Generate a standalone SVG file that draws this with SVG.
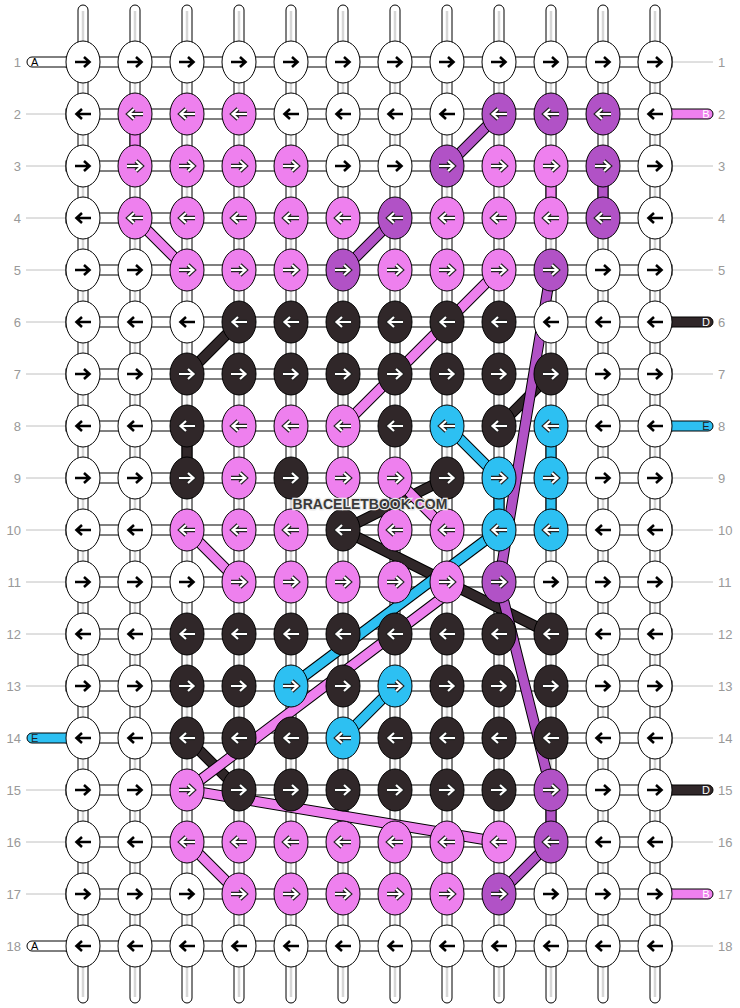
<svg xmlns="http://www.w3.org/2000/svg" width="740" height="1008" viewBox="0 0 740 1008">
<style>
.k{stroke:#000;stroke-width:1}
.w{fill:#fff}.p{fill:#ee80ee}.u{fill:#b152c6}.d{fill:#302729}.b{fill:#2dc0f2}
.vs{fill:#fff;stroke:#000;stroke-width:1}
.vc{stroke:#d6d6d6;stroke-width:2.5}
.hs{fill:#fff;stroke:#000;stroke-width:1}
.gl{stroke:#c0c0c0;stroke-width:1}
.lb{font-family:"Liberation Sans",Arial,sans-serif;font-size:13px;fill:#999}
.tl{font-family:"Liberation Sans",Arial,sans-serif;font-size:11px}
.o{fill:none;stroke:#000;stroke-width:11;stroke-linejoin:round}
.sd{fill:none;stroke:#302729;stroke-width:9;stroke-linejoin:round}
.sb{fill:none;stroke:#2dc0f2;stroke-width:9;stroke-linejoin:round}
.sp{fill:none;stroke:#ee80ee;stroke-width:9;stroke-linejoin:round}
.su{fill:none;stroke:#b152c6;stroke-width:9;stroke-linejoin:round}
.wm{font-family:"Liberation Sans",Arial,sans-serif;font-size:14px;font-weight:bold;fill:#3a3a3a;stroke:#e8e8e8;stroke-width:2.5;paint-order:stroke}
</style>
<defs>
<path id="R" d="M-8 0H6M1-5L6.5 0L1 5"/>
<path id="L" d="M8 0H-6M-1-5L-6.5 0L-1 5"/>
<g id="Rb" fill="none" stroke="#000" stroke-width="2.6"><use href="#R"/></g>
<g id="Lb" fill="none" stroke="#000" stroke-width="2.6"><use href="#L"/></g>
<g id="Rc" fill="none"><use href="#R" stroke="#222" stroke-width="4.4"/><use href="#R" stroke="#fff" stroke-width="2.2"/></g>
<g id="Lc" fill="none"><use href="#L" stroke="#222" stroke-width="4.4"/><use href="#L" stroke="#fff" stroke-width="2.2"/></g>
</defs>
<rect width="740" height="1008" fill="#fff"/>
<g id="labels">
<text class="lb" x="21" y="67" text-anchor="end">1</text><text class="lb" x="718" y="67">1</text>
<text class="lb" x="21" y="119" text-anchor="end">2</text><text class="lb" x="718" y="119">2</text>
<text class="lb" x="21" y="171" text-anchor="end">3</text><text class="lb" x="718" y="171">3</text>
<text class="lb" x="21" y="223" text-anchor="end">4</text><text class="lb" x="718" y="223">4</text>
<text class="lb" x="21" y="275" text-anchor="end">5</text><text class="lb" x="718" y="275">5</text>
<text class="lb" x="21" y="327" text-anchor="end">6</text><text class="lb" x="718" y="327">6</text>
<text class="lb" x="21" y="379" text-anchor="end">7</text><text class="lb" x="718" y="379">7</text>
<text class="lb" x="21" y="431" text-anchor="end">8</text><text class="lb" x="718" y="431">8</text>
<text class="lb" x="21" y="483" text-anchor="end">9</text><text class="lb" x="718" y="483">9</text>
<text class="lb" x="21" y="535" text-anchor="end">10</text><text class="lb" x="718" y="535">10</text>
<text class="lb" x="21" y="587" text-anchor="end">11</text><text class="lb" x="718" y="587">11</text>
<text class="lb" x="21" y="639" text-anchor="end">12</text><text class="lb" x="718" y="639">12</text>
<text class="lb" x="21" y="691" text-anchor="end">13</text><text class="lb" x="718" y="691">13</text>
<text class="lb" x="21" y="743" text-anchor="end">14</text><text class="lb" x="718" y="743">14</text>
<text class="lb" x="21" y="795" text-anchor="end">15</text><text class="lb" x="718" y="795">15</text>
<text class="lb" x="21" y="847" text-anchor="end">16</text><text class="lb" x="718" y="847">16</text>
<text class="lb" x="21" y="899" text-anchor="end">17</text><text class="lb" x="718" y="899">17</text>
<text class="lb" x="21" y="951" text-anchor="end">18</text><text class="lb" x="718" y="951">18</text>
</g>
<g id="connectors">
<g id="guides">
<path class="gl" d="M26 114H66M26 166H66M26 218H66M26 270H66M26 322H66M26 374H66M26 426H66M26 478H66M26 530H66M26 582H66M26 634H66M26 686H66M26 790H66M26 842H66M26 894H66"/>
<path class="gl" d="M672 62H713M672 166H713M672 218H713M672 270H713M672 374H713M672 478H713M672 530H713M672 582H713M672 634H713M672 686H713M672 738H713M672 842H713M672 946H713"/>
</g>
<g id="vertical-strands">
<rect class="vs" x="78" y="5" width="10" height="998" rx="5"/>
<rect class="vs" x="130" y="5" width="10" height="998" rx="5"/>
<rect class="vs" x="182" y="5" width="10" height="998" rx="5"/>
<rect class="vs" x="234" y="5" width="10" height="998" rx="5"/>
<rect class="vs" x="286" y="5" width="10" height="998" rx="5"/>
<rect class="vs" x="338" y="5" width="10" height="998" rx="5"/>
<rect class="vs" x="390" y="5" width="10" height="998" rx="5"/>
<rect class="vs" x="442" y="5" width="10" height="998" rx="5"/>
<rect class="vs" x="494" y="5" width="10" height="998" rx="5"/>
<rect class="vs" x="546" y="5" width="10" height="998" rx="5"/>
<rect class="vs" x="598" y="5" width="10" height="998" rx="5"/>
<rect class="vs" x="650" y="5" width="10" height="998" rx="5"/>
<path class="vc" d="M83 11V997M135 11V997M187 11V997M239 11V997M291 11V997M343 11V997M395 11V997M447 11V997M499 11V997M551 11V997M603 11V997M655 11V997"/>
</g>
<g id="horizontal-strands">
<rect class="hs" x="66" y="57" width="606" height="10"/>
<rect class="hs" x="66" y="109" width="606" height="10"/>
<rect class="hs" x="66" y="161" width="606" height="10"/>
<rect class="hs" x="66" y="213" width="606" height="10"/>
<rect class="hs" x="66" y="265" width="606" height="10"/>
<rect class="hs" x="66" y="317" width="606" height="10"/>
<rect class="hs" x="66" y="369" width="606" height="10"/>
<rect class="hs" x="66" y="421" width="606" height="10"/>
<rect class="hs" x="66" y="473" width="606" height="10"/>
<rect class="hs" x="66" y="525" width="606" height="10"/>
<rect class="hs" x="66" y="577" width="606" height="10"/>
<rect class="hs" x="66" y="629" width="606" height="10"/>
<rect class="hs" x="66" y="681" width="606" height="10"/>
<rect class="hs" x="66" y="733" width="606" height="10"/>
<rect class="hs" x="66" y="785" width="606" height="10"/>
<rect class="hs" x="66" y="837" width="606" height="10"/>
<rect class="hs" x="66" y="889" width="606" height="10"/>
<rect class="hs" x="66" y="941" width="606" height="10"/>
</g>
<g id="tails">
<rect class="k w" x="27" y="57" width="50" height="10" rx="5"/><text class="tl" x="31" y="66" fill="#000">A</text>
<rect class="k w" x="27" y="941" width="50" height="10" rx="5"/><text class="tl" x="31" y="950" fill="#000">A</text>
<rect class="k b" x="27" y="733" width="50" height="10" rx="5"/><text class="tl" x="31" y="742" fill="#222">E</text>
<rect class="k p" x="662" y="109" width="51" height="10" rx="5"/><text class="tl" x="706" y="118" fill="#fff" text-anchor="middle">B</text>
<rect class="k d" x="662" y="317" width="51" height="10" rx="5"/><text class="tl" x="706" y="326" fill="#fff" text-anchor="middle">D</text>
<rect class="k b" x="662" y="421" width="51" height="10" rx="5"/><text class="tl" x="706" y="430" fill="#222" text-anchor="middle">E</text>
<rect class="k d" x="662" y="785" width="51" height="10" rx="5"/><text class="tl" x="706" y="794" fill="#fff" text-anchor="middle">D</text>
<rect class="k p" x="662" y="889" width="51" height="10" rx="5"/><text class="tl" x="706" y="898" fill="#fff" text-anchor="middle">B</text>
</g>
<g id="colored-segments">
<rect class="k p" x="130" y="132" width="10" height="16"/>
<rect class="k p" x="546" y="184" width="10" height="16"/>
<rect class="k u" x="598" y="184" width="10" height="16"/>
<rect class="k d" x="182" y="444" width="10" height="16"/>
<rect class="k b" x="546" y="444" width="10" height="16"/>
<rect class="k b" x="546" y="496" width="10" height="16"/>
<rect class="k b" x="494" y="496" width="10" height="16"/>
<rect class="k u" x="546" y="808" width="10" height="16"/>
</g>
<g id="diagonals">
<path class="o" d="M187 374L239 322"/><path class="sd" d="M187 374L239 322"/>
<path class="o" d="M499 426L551 374"/><path class="sd" d="M499 426L551 374"/>
<path class="o" d="M447 478L343 530L551 634"/><path class="sd" d="M447 478L343 530L551 634"/>
<path class="o" d="M187 738L239 790"/><path class="sd" d="M187 738L239 790"/>
<path class="o" d="M447 426L499 478"/><path class="sb" d="M447 426L499 478"/>
<path class="o" d="M499 530L291 686"/><path class="sb" d="M499 530L291 686"/>
<path class="o" d="M395 686L343 738"/><path class="sb" d="M395 686L343 738"/>
<path class="o" d="M135 218L187 270"/><path class="sp" d="M135 218L187 270"/>
<path class="o" d="M499 270L343 426"/><path class="sp" d="M499 270L343 426"/>
<path class="o" d="M395 478L447 530"/><path class="sp" d="M395 478L447 530"/>
<path class="o" d="M187 530L239 582"/><path class="sp" d="M187 530L239 582"/>
<path class="o" d="M455 588L187 790L499 842"/><path class="sp" d="M455 588L187 790L499 842"/>
<path class="o" d="M187 842L239 894"/><path class="sp" d="M187 842L239 894"/>
<path class="o" d="M499 114L447 166"/><path class="su" d="M499 114L447 166"/>
<path class="o" d="M395 218L343 270"/><path class="su" d="M395 218L343 270"/>
<path class="o" d="M551 270L499 582L551 790"/><path class="su" d="M551 270L499 582L551 790"/>
<path class="o" d="M551 842L499 894"/><path class="su" d="M551 842L499 894"/>
</g>
</g>
<g id="knots">
<g id="n1-1"><ellipse class="k w" cx="83" cy="62" rx="17" ry="21"/><use href="#Rb" x="83" y="62"/></g>
<g id="n1-2"><ellipse class="k w" cx="135" cy="62" rx="17" ry="21"/><use href="#Rb" x="135" y="62"/></g>
<g id="n1-3"><ellipse class="k w" cx="187" cy="62" rx="17" ry="21"/><use href="#Rb" x="187" y="62"/></g>
<g id="n1-4"><ellipse class="k w" cx="239" cy="62" rx="17" ry="21"/><use href="#Rb" x="239" y="62"/></g>
<g id="n1-5"><ellipse class="k w" cx="291" cy="62" rx="17" ry="21"/><use href="#Rb" x="291" y="62"/></g>
<g id="n1-6"><ellipse class="k w" cx="343" cy="62" rx="17" ry="21"/><use href="#Rb" x="343" y="62"/></g>
<g id="n1-7"><ellipse class="k w" cx="395" cy="62" rx="17" ry="21"/><use href="#Rb" x="395" y="62"/></g>
<g id="n1-8"><ellipse class="k w" cx="447" cy="62" rx="17" ry="21"/><use href="#Rb" x="447" y="62"/></g>
<g id="n1-9"><ellipse class="k w" cx="499" cy="62" rx="17" ry="21"/><use href="#Rb" x="499" y="62"/></g>
<g id="n1-10"><ellipse class="k w" cx="551" cy="62" rx="17" ry="21"/><use href="#Rb" x="551" y="62"/></g>
<g id="n1-11"><ellipse class="k w" cx="603" cy="62" rx="17" ry="21"/><use href="#Rb" x="603" y="62"/></g>
<g id="n1-12"><ellipse class="k w" cx="655" cy="62" rx="17" ry="21"/><use href="#Rb" x="655" y="62"/></g>

<g id="n2-1"><ellipse class="k w" cx="83" cy="114" rx="17" ry="21"/><use href="#Lb" x="83" y="114"/></g>
<g id="n2-2"><ellipse class="k p" cx="135" cy="114" rx="17" ry="21"/><use href="#Lc" x="135" y="114"/></g>
<g id="n2-3"><ellipse class="k p" cx="187" cy="114" rx="17" ry="21"/><use href="#Lc" x="187" y="114"/></g>
<g id="n2-4"><ellipse class="k p" cx="239" cy="114" rx="17" ry="21"/><use href="#Lc" x="239" y="114"/></g>
<g id="n2-5"><ellipse class="k w" cx="291" cy="114" rx="17" ry="21"/><use href="#Lb" x="291" y="114"/></g>
<g id="n2-6"><ellipse class="k w" cx="343" cy="114" rx="17" ry="21"/><use href="#Lb" x="343" y="114"/></g>
<g id="n2-7"><ellipse class="k w" cx="395" cy="114" rx="17" ry="21"/><use href="#Lb" x="395" y="114"/></g>
<g id="n2-8"><ellipse class="k w" cx="447" cy="114" rx="17" ry="21"/><use href="#Lb" x="447" y="114"/></g>
<g id="n2-9"><ellipse class="k u" cx="499" cy="114" rx="17" ry="21"/><use href="#Lc" x="499" y="114"/></g>
<g id="n2-10"><ellipse class="k u" cx="551" cy="114" rx="17" ry="21"/><use href="#Lc" x="551" y="114"/></g>
<g id="n2-11"><ellipse class="k u" cx="603" cy="114" rx="17" ry="21"/><use href="#Lc" x="603" y="114"/></g>
<g id="n2-12"><ellipse class="k w" cx="655" cy="114" rx="17" ry="21"/><use href="#Lb" x="655" y="114"/></g>

<g id="n3-1"><ellipse class="k w" cx="83" cy="166" rx="17" ry="21"/><use href="#Rb" x="83" y="166"/></g>
<g id="n3-2"><ellipse class="k p" cx="135" cy="166" rx="17" ry="21"/><use href="#Rc" x="135" y="166"/></g>
<g id="n3-3"><ellipse class="k p" cx="187" cy="166" rx="17" ry="21"/><use href="#Rc" x="187" y="166"/></g>
<g id="n3-4"><ellipse class="k p" cx="239" cy="166" rx="17" ry="21"/><use href="#Rc" x="239" y="166"/></g>
<g id="n3-5"><ellipse class="k p" cx="291" cy="166" rx="17" ry="21"/><use href="#Rc" x="291" y="166"/></g>
<g id="n3-6"><ellipse class="k w" cx="343" cy="166" rx="17" ry="21"/><use href="#Rb" x="343" y="166"/></g>
<g id="n3-7"><ellipse class="k w" cx="395" cy="166" rx="17" ry="21"/><use href="#Rb" x="395" y="166"/></g>
<g id="n3-8"><ellipse class="k u" cx="447" cy="166" rx="17" ry="21"/><use href="#Rc" x="447" y="166"/></g>
<g id="n3-9"><ellipse class="k p" cx="499" cy="166" rx="17" ry="21"/><use href="#Rc" x="499" y="166"/></g>
<g id="n3-10"><ellipse class="k p" cx="551" cy="166" rx="17" ry="21"/><use href="#Rc" x="551" y="166"/></g>
<g id="n3-11"><ellipse class="k u" cx="603" cy="166" rx="17" ry="21"/><use href="#Rc" x="603" y="166"/></g>
<g id="n3-12"><ellipse class="k w" cx="655" cy="166" rx="17" ry="21"/><use href="#Rb" x="655" y="166"/></g>

<g id="n4-1"><ellipse class="k w" cx="83" cy="218" rx="17" ry="21"/><use href="#Lb" x="83" y="218"/></g>
<g id="n4-2"><ellipse class="k p" cx="135" cy="218" rx="17" ry="21"/><use href="#Lc" x="135" y="218"/></g>
<g id="n4-3"><ellipse class="k p" cx="187" cy="218" rx="17" ry="21"/><use href="#Lc" x="187" y="218"/></g>
<g id="n4-4"><ellipse class="k p" cx="239" cy="218" rx="17" ry="21"/><use href="#Lc" x="239" y="218"/></g>
<g id="n4-5"><ellipse class="k p" cx="291" cy="218" rx="17" ry="21"/><use href="#Lc" x="291" y="218"/></g>
<g id="n4-6"><ellipse class="k p" cx="343" cy="218" rx="17" ry="21"/><use href="#Lc" x="343" y="218"/></g>
<g id="n4-7"><ellipse class="k u" cx="395" cy="218" rx="17" ry="21"/><use href="#Lc" x="395" y="218"/></g>
<g id="n4-8"><ellipse class="k p" cx="447" cy="218" rx="17" ry="21"/><use href="#Lc" x="447" y="218"/></g>
<g id="n4-9"><ellipse class="k p" cx="499" cy="218" rx="17" ry="21"/><use href="#Lc" x="499" y="218"/></g>
<g id="n4-10"><ellipse class="k p" cx="551" cy="218" rx="17" ry="21"/><use href="#Lc" x="551" y="218"/></g>
<g id="n4-11"><ellipse class="k u" cx="603" cy="218" rx="17" ry="21"/><use href="#Lc" x="603" y="218"/></g>
<g id="n4-12"><ellipse class="k w" cx="655" cy="218" rx="17" ry="21"/><use href="#Lb" x="655" y="218"/></g>

<g id="n5-1"><ellipse class="k w" cx="83" cy="270" rx="17" ry="21"/><use href="#Rb" x="83" y="270"/></g>
<g id="n5-2"><ellipse class="k w" cx="135" cy="270" rx="17" ry="21"/><use href="#Rb" x="135" y="270"/></g>
<g id="n5-3"><ellipse class="k p" cx="187" cy="270" rx="17" ry="21"/><use href="#Rc" x="187" y="270"/></g>
<g id="n5-4"><ellipse class="k p" cx="239" cy="270" rx="17" ry="21"/><use href="#Rc" x="239" y="270"/></g>
<g id="n5-5"><ellipse class="k p" cx="291" cy="270" rx="17" ry="21"/><use href="#Rc" x="291" y="270"/></g>
<g id="n5-6"><ellipse class="k u" cx="343" cy="270" rx="17" ry="21"/><use href="#Rc" x="343" y="270"/></g>
<g id="n5-7"><ellipse class="k p" cx="395" cy="270" rx="17" ry="21"/><use href="#Rc" x="395" y="270"/></g>
<g id="n5-8"><ellipse class="k p" cx="447" cy="270" rx="17" ry="21"/><use href="#Rc" x="447" y="270"/></g>
<g id="n5-9"><ellipse class="k p" cx="499" cy="270" rx="17" ry="21"/><use href="#Rc" x="499" y="270"/></g>
<g id="n5-10"><ellipse class="k u" cx="551" cy="270" rx="17" ry="21"/><use href="#Rc" x="551" y="270"/></g>
<g id="n5-11"><ellipse class="k w" cx="603" cy="270" rx="17" ry="21"/><use href="#Rb" x="603" y="270"/></g>
<g id="n5-12"><ellipse class="k w" cx="655" cy="270" rx="17" ry="21"/><use href="#Rb" x="655" y="270"/></g>

<g id="n6-1"><ellipse class="k w" cx="83" cy="322" rx="17" ry="21"/><use href="#Lb" x="83" y="322"/></g>
<g id="n6-2"><ellipse class="k w" cx="135" cy="322" rx="17" ry="21"/><use href="#Lb" x="135" y="322"/></g>
<g id="n6-3"><ellipse class="k w" cx="187" cy="322" rx="17" ry="21"/><use href="#Lb" x="187" y="322"/></g>
<g id="n6-4"><ellipse class="k d" cx="239" cy="322" rx="17" ry="21"/><use href="#Lc" x="239" y="322"/></g>
<g id="n6-5"><ellipse class="k d" cx="291" cy="322" rx="17" ry="21"/><use href="#Lc" x="291" y="322"/></g>
<g id="n6-6"><ellipse class="k d" cx="343" cy="322" rx="17" ry="21"/><use href="#Lc" x="343" y="322"/></g>
<g id="n6-7"><ellipse class="k d" cx="395" cy="322" rx="17" ry="21"/><use href="#Lc" x="395" y="322"/></g>
<g id="n6-8"><ellipse class="k d" cx="447" cy="322" rx="17" ry="21"/><use href="#Lc" x="447" y="322"/></g>
<g id="n6-9"><ellipse class="k d" cx="499" cy="322" rx="17" ry="21"/><use href="#Lc" x="499" y="322"/></g>
<g id="n6-10"><ellipse class="k w" cx="551" cy="322" rx="17" ry="21"/><use href="#Lb" x="551" y="322"/></g>
<g id="n6-11"><ellipse class="k w" cx="603" cy="322" rx="17" ry="21"/><use href="#Lb" x="603" y="322"/></g>
<g id="n6-12"><ellipse class="k w" cx="655" cy="322" rx="17" ry="21"/><use href="#Lb" x="655" y="322"/></g>

<g id="n7-1"><ellipse class="k w" cx="83" cy="374" rx="17" ry="21"/><use href="#Rb" x="83" y="374"/></g>
<g id="n7-2"><ellipse class="k w" cx="135" cy="374" rx="17" ry="21"/><use href="#Rb" x="135" y="374"/></g>
<g id="n7-3"><ellipse class="k d" cx="187" cy="374" rx="17" ry="21"/><use href="#Rc" x="187" y="374"/></g>
<g id="n7-4"><ellipse class="k d" cx="239" cy="374" rx="17" ry="21"/><use href="#Rc" x="239" y="374"/></g>
<g id="n7-5"><ellipse class="k d" cx="291" cy="374" rx="17" ry="21"/><use href="#Rc" x="291" y="374"/></g>
<g id="n7-6"><ellipse class="k d" cx="343" cy="374" rx="17" ry="21"/><use href="#Rc" x="343" y="374"/></g>
<g id="n7-7"><ellipse class="k d" cx="395" cy="374" rx="17" ry="21"/><use href="#Rc" x="395" y="374"/></g>
<g id="n7-8"><ellipse class="k d" cx="447" cy="374" rx="17" ry="21"/><use href="#Rc" x="447" y="374"/></g>
<g id="n7-9"><ellipse class="k d" cx="499" cy="374" rx="17" ry="21"/><use href="#Rc" x="499" y="374"/></g>
<g id="n7-10"><ellipse class="k d" cx="551" cy="374" rx="17" ry="21"/><use href="#Rc" x="551" y="374"/></g>
<g id="n7-11"><ellipse class="k w" cx="603" cy="374" rx="17" ry="21"/><use href="#Rb" x="603" y="374"/></g>
<g id="n7-12"><ellipse class="k w" cx="655" cy="374" rx="17" ry="21"/><use href="#Rb" x="655" y="374"/></g>

<g id="n8-1"><ellipse class="k w" cx="83" cy="426" rx="17" ry="21"/><use href="#Lb" x="83" y="426"/></g>
<g id="n8-2"><ellipse class="k w" cx="135" cy="426" rx="17" ry="21"/><use href="#Lb" x="135" y="426"/></g>
<g id="n8-3"><ellipse class="k d" cx="187" cy="426" rx="17" ry="21"/><use href="#Lc" x="187" y="426"/></g>
<g id="n8-4"><ellipse class="k p" cx="239" cy="426" rx="17" ry="21"/><use href="#Lc" x="239" y="426"/></g>
<g id="n8-5"><ellipse class="k p" cx="291" cy="426" rx="17" ry="21"/><use href="#Lc" x="291" y="426"/></g>
<g id="n8-6"><ellipse class="k p" cx="343" cy="426" rx="17" ry="21"/><use href="#Lc" x="343" y="426"/></g>
<g id="n8-7"><ellipse class="k d" cx="395" cy="426" rx="17" ry="21"/><use href="#Lc" x="395" y="426"/></g>
<g id="n8-8"><ellipse class="k b" cx="447" cy="426" rx="17" ry="21"/><use href="#Lc" x="447" y="426"/></g>
<g id="n8-9"><ellipse class="k d" cx="499" cy="426" rx="17" ry="21"/><use href="#Lc" x="499" y="426"/></g>
<g id="n8-10"><ellipse class="k b" cx="551" cy="426" rx="17" ry="21"/><use href="#Lc" x="551" y="426"/></g>
<g id="n8-11"><ellipse class="k w" cx="603" cy="426" rx="17" ry="21"/><use href="#Lb" x="603" y="426"/></g>
<g id="n8-12"><ellipse class="k w" cx="655" cy="426" rx="17" ry="21"/><use href="#Lb" x="655" y="426"/></g>

<g id="n9-1"><ellipse class="k w" cx="83" cy="478" rx="17" ry="21"/><use href="#Rb" x="83" y="478"/></g>
<g id="n9-2"><ellipse class="k w" cx="135" cy="478" rx="17" ry="21"/><use href="#Rb" x="135" y="478"/></g>
<g id="n9-3"><ellipse class="k d" cx="187" cy="478" rx="17" ry="21"/><use href="#Rc" x="187" y="478"/></g>
<g id="n9-4"><ellipse class="k p" cx="239" cy="478" rx="17" ry="21"/><use href="#Rc" x="239" y="478"/></g>
<g id="n9-5"><ellipse class="k d" cx="291" cy="478" rx="17" ry="21"/><use href="#Rc" x="291" y="478"/></g>
<g id="n9-6"><ellipse class="k p" cx="343" cy="478" rx="17" ry="21"/><use href="#Rc" x="343" y="478"/></g>
<g id="n9-7"><ellipse class="k p" cx="395" cy="478" rx="17" ry="21"/><use href="#Rc" x="395" y="478"/></g>
<g id="n9-8"><ellipse class="k d" cx="447" cy="478" rx="17" ry="21"/><use href="#Rc" x="447" y="478"/></g>
<g id="n9-9"><ellipse class="k b" cx="499" cy="478" rx="17" ry="21"/><use href="#Rc" x="499" y="478"/></g>
<g id="n9-10"><ellipse class="k b" cx="551" cy="478" rx="17" ry="21"/><use href="#Rc" x="551" y="478"/></g>
<g id="n9-11"><ellipse class="k w" cx="603" cy="478" rx="17" ry="21"/><use href="#Rb" x="603" y="478"/></g>
<g id="n9-12"><ellipse class="k w" cx="655" cy="478" rx="17" ry="21"/><use href="#Rb" x="655" y="478"/></g>

<g id="n10-1"><ellipse class="k w" cx="83" cy="530" rx="17" ry="21"/><use href="#Lb" x="83" y="530"/></g>
<g id="n10-2"><ellipse class="k w" cx="135" cy="530" rx="17" ry="21"/><use href="#Lb" x="135" y="530"/></g>
<g id="n10-3"><ellipse class="k p" cx="187" cy="530" rx="17" ry="21"/><use href="#Lc" x="187" y="530"/></g>
<g id="n10-4"><ellipse class="k p" cx="239" cy="530" rx="17" ry="21"/><use href="#Lc" x="239" y="530"/></g>
<g id="n10-5"><ellipse class="k p" cx="291" cy="530" rx="17" ry="21"/><use href="#Lc" x="291" y="530"/></g>
<g id="n10-6"><ellipse class="k d" cx="343" cy="530" rx="17" ry="21"/><use href="#Lc" x="343" y="530"/></g>
<g id="n10-7"><ellipse class="k p" cx="395" cy="530" rx="17" ry="21"/><use href="#Lc" x="395" y="530"/></g>
<g id="n10-8"><ellipse class="k p" cx="447" cy="530" rx="17" ry="21"/><use href="#Lc" x="447" y="530"/></g>
<g id="n10-9"><ellipse class="k b" cx="499" cy="530" rx="17" ry="21"/><use href="#Lc" x="499" y="530"/></g>
<g id="n10-10"><ellipse class="k b" cx="551" cy="530" rx="17" ry="21"/><use href="#Lc" x="551" y="530"/></g>
<g id="n10-11"><ellipse class="k w" cx="603" cy="530" rx="17" ry="21"/><use href="#Lb" x="603" y="530"/></g>
<g id="n10-12"><ellipse class="k w" cx="655" cy="530" rx="17" ry="21"/><use href="#Lb" x="655" y="530"/></g>

<g id="n11-1"><ellipse class="k w" cx="83" cy="582" rx="17" ry="21"/><use href="#Rb" x="83" y="582"/></g>
<g id="n11-2"><ellipse class="k w" cx="135" cy="582" rx="17" ry="21"/><use href="#Rb" x="135" y="582"/></g>
<g id="n11-3"><ellipse class="k w" cx="187" cy="582" rx="17" ry="21"/><use href="#Rb" x="187" y="582"/></g>
<g id="n11-4"><ellipse class="k p" cx="239" cy="582" rx="17" ry="21"/><use href="#Rc" x="239" y="582"/></g>
<g id="n11-5"><ellipse class="k p" cx="291" cy="582" rx="17" ry="21"/><use href="#Rc" x="291" y="582"/></g>
<g id="n11-6"><ellipse class="k p" cx="343" cy="582" rx="17" ry="21"/><use href="#Rc" x="343" y="582"/></g>
<g id="n11-7"><ellipse class="k p" cx="395" cy="582" rx="17" ry="21"/><use href="#Rc" x="395" y="582"/></g>
<g id="n11-8"><ellipse class="k p" cx="447" cy="582" rx="17" ry="21"/><use href="#Rc" x="447" y="582"/></g>
<g id="n11-9"><ellipse class="k u" cx="499" cy="582" rx="17" ry="21"/><use href="#Rc" x="499" y="582"/></g>
<g id="n11-10"><ellipse class="k w" cx="551" cy="582" rx="17" ry="21"/><use href="#Rb" x="551" y="582"/></g>
<g id="n11-11"><ellipse class="k w" cx="603" cy="582" rx="17" ry="21"/><use href="#Rb" x="603" y="582"/></g>
<g id="n11-12"><ellipse class="k w" cx="655" cy="582" rx="17" ry="21"/><use href="#Rb" x="655" y="582"/></g>

<g id="n12-1"><ellipse class="k w" cx="83" cy="634" rx="17" ry="21"/><use href="#Lb" x="83" y="634"/></g>
<g id="n12-2"><ellipse class="k w" cx="135" cy="634" rx="17" ry="21"/><use href="#Lb" x="135" y="634"/></g>
<g id="n12-3"><ellipse class="k d" cx="187" cy="634" rx="17" ry="21"/><use href="#Lc" x="187" y="634"/></g>
<g id="n12-4"><ellipse class="k d" cx="239" cy="634" rx="17" ry="21"/><use href="#Lc" x="239" y="634"/></g>
<g id="n12-5"><ellipse class="k d" cx="291" cy="634" rx="17" ry="21"/><use href="#Lc" x="291" y="634"/></g>
<g id="n12-6"><ellipse class="k d" cx="343" cy="634" rx="17" ry="21"/><use href="#Lc" x="343" y="634"/></g>
<g id="n12-7"><ellipse class="k d" cx="395" cy="634" rx="17" ry="21"/><use href="#Lc" x="395" y="634"/></g>
<g id="n12-8"><ellipse class="k d" cx="447" cy="634" rx="17" ry="21"/><use href="#Lc" x="447" y="634"/></g>
<g id="n12-9"><ellipse class="k d" cx="499" cy="634" rx="17" ry="21"/><use href="#Lc" x="499" y="634"/></g>
<g id="n12-10"><ellipse class="k d" cx="551" cy="634" rx="17" ry="21"/><use href="#Lc" x="551" y="634"/></g>
<g id="n12-11"><ellipse class="k w" cx="603" cy="634" rx="17" ry="21"/><use href="#Lb" x="603" y="634"/></g>
<g id="n12-12"><ellipse class="k w" cx="655" cy="634" rx="17" ry="21"/><use href="#Lb" x="655" y="634"/></g>

<g id="n13-1"><ellipse class="k w" cx="83" cy="686" rx="17" ry="21"/><use href="#Rb" x="83" y="686"/></g>
<g id="n13-2"><ellipse class="k w" cx="135" cy="686" rx="17" ry="21"/><use href="#Rb" x="135" y="686"/></g>
<g id="n13-3"><ellipse class="k d" cx="187" cy="686" rx="17" ry="21"/><use href="#Rc" x="187" y="686"/></g>
<g id="n13-4"><ellipse class="k d" cx="239" cy="686" rx="17" ry="21"/><use href="#Rc" x="239" y="686"/></g>
<g id="n13-5"><ellipse class="k b" cx="291" cy="686" rx="17" ry="21"/><use href="#Rc" x="291" y="686"/></g>
<g id="n13-6"><ellipse class="k d" cx="343" cy="686" rx="17" ry="21"/><use href="#Rc" x="343" y="686"/></g>
<g id="n13-7"><ellipse class="k b" cx="395" cy="686" rx="17" ry="21"/><use href="#Rc" x="395" y="686"/></g>
<g id="n13-8"><ellipse class="k d" cx="447" cy="686" rx="17" ry="21"/><use href="#Rc" x="447" y="686"/></g>
<g id="n13-9"><ellipse class="k d" cx="499" cy="686" rx="17" ry="21"/><use href="#Rc" x="499" y="686"/></g>
<g id="n13-10"><ellipse class="k d" cx="551" cy="686" rx="17" ry="21"/><use href="#Rc" x="551" y="686"/></g>
<g id="n13-11"><ellipse class="k w" cx="603" cy="686" rx="17" ry="21"/><use href="#Rb" x="603" y="686"/></g>
<g id="n13-12"><ellipse class="k w" cx="655" cy="686" rx="17" ry="21"/><use href="#Rb" x="655" y="686"/></g>

<g id="n14-1"><ellipse class="k w" cx="83" cy="738" rx="17" ry="21"/><use href="#Lb" x="83" y="738"/></g>
<g id="n14-2"><ellipse class="k w" cx="135" cy="738" rx="17" ry="21"/><use href="#Lb" x="135" y="738"/></g>
<g id="n14-3"><ellipse class="k d" cx="187" cy="738" rx="17" ry="21"/><use href="#Lc" x="187" y="738"/></g>
<g id="n14-4"><ellipse class="k d" cx="239" cy="738" rx="17" ry="21"/><use href="#Lc" x="239" y="738"/></g>
<g id="n14-5"><ellipse class="k d" cx="291" cy="738" rx="17" ry="21"/><use href="#Lc" x="291" y="738"/></g>
<g id="n14-6"><ellipse class="k b" cx="343" cy="738" rx="17" ry="21"/><use href="#Lc" x="343" y="738"/></g>
<g id="n14-7"><ellipse class="k d" cx="395" cy="738" rx="17" ry="21"/><use href="#Lc" x="395" y="738"/></g>
<g id="n14-8"><ellipse class="k d" cx="447" cy="738" rx="17" ry="21"/><use href="#Lc" x="447" y="738"/></g>
<g id="n14-9"><ellipse class="k d" cx="499" cy="738" rx="17" ry="21"/><use href="#Lc" x="499" y="738"/></g>
<g id="n14-10"><ellipse class="k d" cx="551" cy="738" rx="17" ry="21"/><use href="#Lc" x="551" y="738"/></g>
<g id="n14-11"><ellipse class="k w" cx="603" cy="738" rx="17" ry="21"/><use href="#Lb" x="603" y="738"/></g>
<g id="n14-12"><ellipse class="k w" cx="655" cy="738" rx="17" ry="21"/><use href="#Lb" x="655" y="738"/></g>

<g id="n15-1"><ellipse class="k w" cx="83" cy="790" rx="17" ry="21"/><use href="#Rb" x="83" y="790"/></g>
<g id="n15-2"><ellipse class="k w" cx="135" cy="790" rx="17" ry="21"/><use href="#Rb" x="135" y="790"/></g>
<g id="n15-3"><ellipse class="k p" cx="187" cy="790" rx="17" ry="21"/><use href="#Rc" x="187" y="790"/></g>
<g id="n15-4"><ellipse class="k d" cx="239" cy="790" rx="17" ry="21"/><use href="#Rc" x="239" y="790"/></g>
<g id="n15-5"><ellipse class="k d" cx="291" cy="790" rx="17" ry="21"/><use href="#Rc" x="291" y="790"/></g>
<g id="n15-6"><ellipse class="k d" cx="343" cy="790" rx="17" ry="21"/><use href="#Rc" x="343" y="790"/></g>
<g id="n15-7"><ellipse class="k d" cx="395" cy="790" rx="17" ry="21"/><use href="#Rc" x="395" y="790"/></g>
<g id="n15-8"><ellipse class="k d" cx="447" cy="790" rx="17" ry="21"/><use href="#Rc" x="447" y="790"/></g>
<g id="n15-9"><ellipse class="k d" cx="499" cy="790" rx="17" ry="21"/><use href="#Rc" x="499" y="790"/></g>
<g id="n15-10"><ellipse class="k u" cx="551" cy="790" rx="17" ry="21"/><use href="#Rc" x="551" y="790"/></g>
<g id="n15-11"><ellipse class="k w" cx="603" cy="790" rx="17" ry="21"/><use href="#Rb" x="603" y="790"/></g>
<g id="n15-12"><ellipse class="k w" cx="655" cy="790" rx="17" ry="21"/><use href="#Rb" x="655" y="790"/></g>

<g id="n16-1"><ellipse class="k w" cx="83" cy="842" rx="17" ry="21"/><use href="#Lb" x="83" y="842"/></g>
<g id="n16-2"><ellipse class="k w" cx="135" cy="842" rx="17" ry="21"/><use href="#Lb" x="135" y="842"/></g>
<g id="n16-3"><ellipse class="k p" cx="187" cy="842" rx="17" ry="21"/><use href="#Lc" x="187" y="842"/></g>
<g id="n16-4"><ellipse class="k p" cx="239" cy="842" rx="17" ry="21"/><use href="#Lc" x="239" y="842"/></g>
<g id="n16-5"><ellipse class="k p" cx="291" cy="842" rx="17" ry="21"/><use href="#Lc" x="291" y="842"/></g>
<g id="n16-6"><ellipse class="k p" cx="343" cy="842" rx="17" ry="21"/><use href="#Lc" x="343" y="842"/></g>
<g id="n16-7"><ellipse class="k p" cx="395" cy="842" rx="17" ry="21"/><use href="#Lc" x="395" y="842"/></g>
<g id="n16-8"><ellipse class="k p" cx="447" cy="842" rx="17" ry="21"/><use href="#Lc" x="447" y="842"/></g>
<g id="n16-9"><ellipse class="k p" cx="499" cy="842" rx="17" ry="21"/><use href="#Lc" x="499" y="842"/></g>
<g id="n16-10"><ellipse class="k u" cx="551" cy="842" rx="17" ry="21"/><use href="#Lc" x="551" y="842"/></g>
<g id="n16-11"><ellipse class="k w" cx="603" cy="842" rx="17" ry="21"/><use href="#Lb" x="603" y="842"/></g>
<g id="n16-12"><ellipse class="k w" cx="655" cy="842" rx="17" ry="21"/><use href="#Lb" x="655" y="842"/></g>

<g id="n17-1"><ellipse class="k w" cx="83" cy="894" rx="17" ry="21"/><use href="#Rb" x="83" y="894"/></g>
<g id="n17-2"><ellipse class="k w" cx="135" cy="894" rx="17" ry="21"/><use href="#Rb" x="135" y="894"/></g>
<g id="n17-3"><ellipse class="k w" cx="187" cy="894" rx="17" ry="21"/><use href="#Rb" x="187" y="894"/></g>
<g id="n17-4"><ellipse class="k p" cx="239" cy="894" rx="17" ry="21"/><use href="#Rc" x="239" y="894"/></g>
<g id="n17-5"><ellipse class="k p" cx="291" cy="894" rx="17" ry="21"/><use href="#Rc" x="291" y="894"/></g>
<g id="n17-6"><ellipse class="k p" cx="343" cy="894" rx="17" ry="21"/><use href="#Rc" x="343" y="894"/></g>
<g id="n17-7"><ellipse class="k p" cx="395" cy="894" rx="17" ry="21"/><use href="#Rc" x="395" y="894"/></g>
<g id="n17-8"><ellipse class="k p" cx="447" cy="894" rx="17" ry="21"/><use href="#Rc" x="447" y="894"/></g>
<g id="n17-9"><ellipse class="k u" cx="499" cy="894" rx="17" ry="21"/><use href="#Rc" x="499" y="894"/></g>
<g id="n17-10"><ellipse class="k w" cx="551" cy="894" rx="17" ry="21"/><use href="#Rb" x="551" y="894"/></g>
<g id="n17-11"><ellipse class="k w" cx="603" cy="894" rx="17" ry="21"/><use href="#Rb" x="603" y="894"/></g>
<g id="n17-12"><ellipse class="k w" cx="655" cy="894" rx="17" ry="21"/><use href="#Rb" x="655" y="894"/></g>

<g id="n18-1"><ellipse class="k w" cx="83" cy="946" rx="17" ry="21"/><use href="#Lb" x="83" y="946"/></g>
<g id="n18-2"><ellipse class="k w" cx="135" cy="946" rx="17" ry="21"/><use href="#Lb" x="135" y="946"/></g>
<g id="n18-3"><ellipse class="k w" cx="187" cy="946" rx="17" ry="21"/><use href="#Lb" x="187" y="946"/></g>
<g id="n18-4"><ellipse class="k w" cx="239" cy="946" rx="17" ry="21"/><use href="#Lb" x="239" y="946"/></g>
<g id="n18-5"><ellipse class="k w" cx="291" cy="946" rx="17" ry="21"/><use href="#Lb" x="291" y="946"/></g>
<g id="n18-6"><ellipse class="k w" cx="343" cy="946" rx="17" ry="21"/><use href="#Lb" x="343" y="946"/></g>
<g id="n18-7"><ellipse class="k w" cx="395" cy="946" rx="17" ry="21"/><use href="#Lb" x="395" y="946"/></g>
<g id="n18-8"><ellipse class="k w" cx="447" cy="946" rx="17" ry="21"/><use href="#Lb" x="447" y="946"/></g>
<g id="n18-9"><ellipse class="k w" cx="499" cy="946" rx="17" ry="21"/><use href="#Lb" x="499" y="946"/></g>
<g id="n18-10"><ellipse class="k w" cx="551" cy="946" rx="17" ry="21"/><use href="#Lb" x="551" y="946"/></g>
<g id="n18-11"><ellipse class="k w" cx="603" cy="946" rx="17" ry="21"/><use href="#Lb" x="603" y="946"/></g>
<g id="n18-12"><ellipse class="k w" cx="655" cy="946" rx="17" ry="21"/><use href="#Lb" x="655" y="946"/></g>
</g>
<text class="wm" x="370" y="509" text-anchor="middle">BRACELETBOOK.COM</text>
</svg>
